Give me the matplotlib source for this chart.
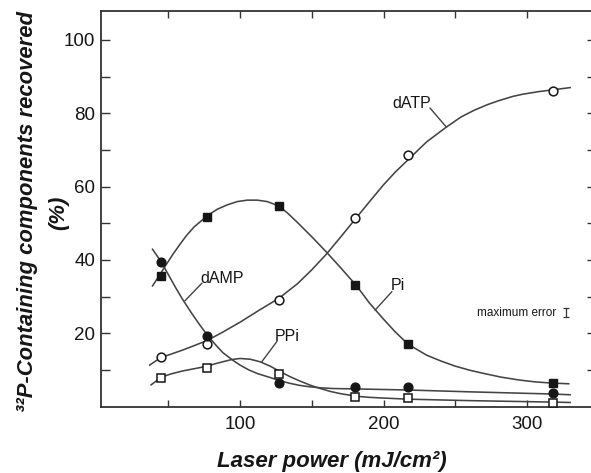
import matplotlib
matplotlib.use("Agg")
import matplotlib.pyplot as plt

plt.rcParams['font.family'] = ['Liberation Sans', 'DejaVu Sans']

# measured points
power = [45, 77, 127, 180, 217, 318]
datp = [13.6, 17.1, 29.1, 51.5, 68.5, 86.1]
pi = [35.7, 51.8, 54.7, 33.2, 17.0, 6.3]
damp = [39.3, 19.2, 6.3, 5.4, 5.4, 3.6]
ppi = [7.7, 10.6, 8.9, 2.7, 2.2, 0.9]

# fitted curves
datp_cx = [37, 45, 52, 60, 68, 77, 88, 100, 113, 127, 140, 150, 160, 170, 180, 190, 200, 208, 217,
           230, 244, 254, 263, 272, 280, 290, 297, 308, 318, 330]
datp_cy = [11.3, 13.4, 14.3, 15.4, 16.6, 18.0, 20.3, 23.0, 26.2, 29.5, 33.5, 37.3, 41.5, 46.2, 51.0,
           55.8, 60.5, 63.9, 67.3, 72.2, 76.3, 79.0, 80.8, 82.3, 83.4, 84.6, 85.2, 85.9, 86.4, 87.0]

pi_cx = [39, 44, 48, 53, 58, 63, 68, 77, 84, 91, 98, 105, 112, 119, 127, 133, 140, 150, 160, 170,
         181, 190, 200, 208, 217, 230, 240, 250, 260, 270, 282, 295, 306, 317, 329]
pi_cy = [32.9, 35.9, 38.4, 41.4, 44.2, 46.8, 49.0, 52.0, 53.8, 55.0, 55.9, 56.3, 56.3, 55.9, 54.7,
         52.8, 50.2, 46.3, 42.2, 37.9, 33.0, 28.3, 23.8, 20.4, 17.0, 14.0, 12.4, 11.0, 9.9, 9.0,
         8.0, 7.2, 6.7, 6.4, 6.2]

damp_cx = [39, 45, 50, 55, 60, 66, 72, 77, 83, 88, 95, 100, 106, 112, 121, 128, 135, 141, 148, 156,
           165, 180, 217, 260, 318, 330]
damp_cy = [42.9, 39.5, 36.0, 32.5, 29.2, 25.6, 22.2, 19.6, 16.8, 14.7, 12.6, 11.3, 10.0, 9.0, 7.9,
           7.0, 6.3, 5.8, 5.4, 5.1, 4.9, 4.8, 4.5, 4.0, 3.4, 3.2]

ppi_cx = [38, 45, 52, 60, 68, 77, 83, 88, 94, 100, 107, 114, 121, 128, 135, 142, 149, 156, 163, 170,
          181, 190, 200, 217, 260, 318, 330]
ppi_cy = [5.9, 8.0, 8.9, 9.7, 10.3, 11.0, 11.7, 12.2, 12.8, 13.1, 12.9, 12.2, 11.0, 9.5, 8.1, 6.9,
          5.8, 4.9, 4.1, 3.5, 2.8, 2.5, 2.3, 2.0, 1.6, 1.2, 1.1]

line_col = '#444444'
mark_col = '#161616'
text_col = '#161616'

fig = plt.figure(figsize=(5.91, 4.73), dpi=100)
ax = fig.add_axes([101 / 591, 66.5 / 473, 495 / 591, 395.5 / 473])

for cx, cy in [(datp_cx, datp_cy), (pi_cx, pi_cy), (damp_cx, damp_cy), (ppi_cx, ppi_cy)]:
    ax.plot(cx, cy, color=line_col, lw=1.15, zorder=2)

ax.plot(power, datp, 'o', ms=6.3, mfc='white', mec=mark_col, mew=1.1, zorder=3)
ax.plot(power, pi, 's', ms=6.3, mfc=mark_col, mec=mark_col, zorder=3)
ax.plot(power, damp, 'o', ms=6.3, mfc=mark_col, mec=mark_col, zorder=3)
ax.plot(power, ppi, 's', ms=6.3, mfc='white', mec=mark_col, mew=1.1, zorder=3)

# curve labels with leader lines
labels = [
    ('dATP', (219.8, 82.6), (232.4, 81.4), (243.6, 76.3)),
    ('Pi', (210.3, 32.9), (205.7, 31.3), (194.1, 26.3)),
    ('dAMP', (87.2, 35.0), (73.3, 33.6), (61.7, 28.9)),
    ('PPi', (132.5, 19.0), (125.6, 17.7), (115.1, 12.2)),
]
for txt, (tx, ty), p0, p1 in labels:
    ax.text(tx, ty, txt, fontsize=11.5, ha='center', va='center', color=text_col)
    ax.plot([p0[0], p1[0]], [p0[1], p1[1]], color=line_col, lw=1.0)

ax.text(292.7, 25.6, 'maximum error', fontsize=8.5, ha='center', va='center', color=text_col)
ax.errorbar([327], [25.6], yerr=[1.2], fmt='none', ecolor='#333333', elinewidth=0.9, capsize=2.5, capthick=0.9)

ax.set_xlim(3.1, 348)
ax.set_ylim(0, 107.9)

ax.set_xticks([100, 200, 300])
ax.set_xticks([50, 150, 250], minor=True)
ax.set_yticks([20, 40, 60, 80, 100])
ax.set_yticks([10, 30, 50, 70, 90], minor=True)

ax.tick_params(axis='x', which='both', direction='in', length=5, width=1.0,
               top=True, labelsize=13.5, pad=7, colors='#333333', labelcolor=text_col)
ax.tick_params(axis='y', which='both', direction='in', length=6.5, width=1.0,
               right=True, labelsize=13.5, pad=4, colors='#333333', labelcolor=text_col)

for s in ax.spines.values():
    s.set_linewidth(1.3)
    s.set_color('#333333')

fig.text(332 / 591, 1 - 461 / 473, 'Laser power (mJ/cm²)', fontsize=16,
         fontweight='bold', fontstyle='italic', ha='center', va='center', color=text_col)
fig.text(28 / 591, 1 - 211.5 / 473, '³²P-Containing components recovered', fontsize=15.8,
         fontweight='bold', fontstyle='italic', rotation=90, ha='center', va='center', color=text_col)
fig.text(59 / 591, 1 - 213 / 473, '(%)', fontsize=15.8,
         fontweight='bold', fontstyle='italic', rotation=90, ha='center', va='center', color=text_col)

fig.savefig('out.png', dpi=100)
